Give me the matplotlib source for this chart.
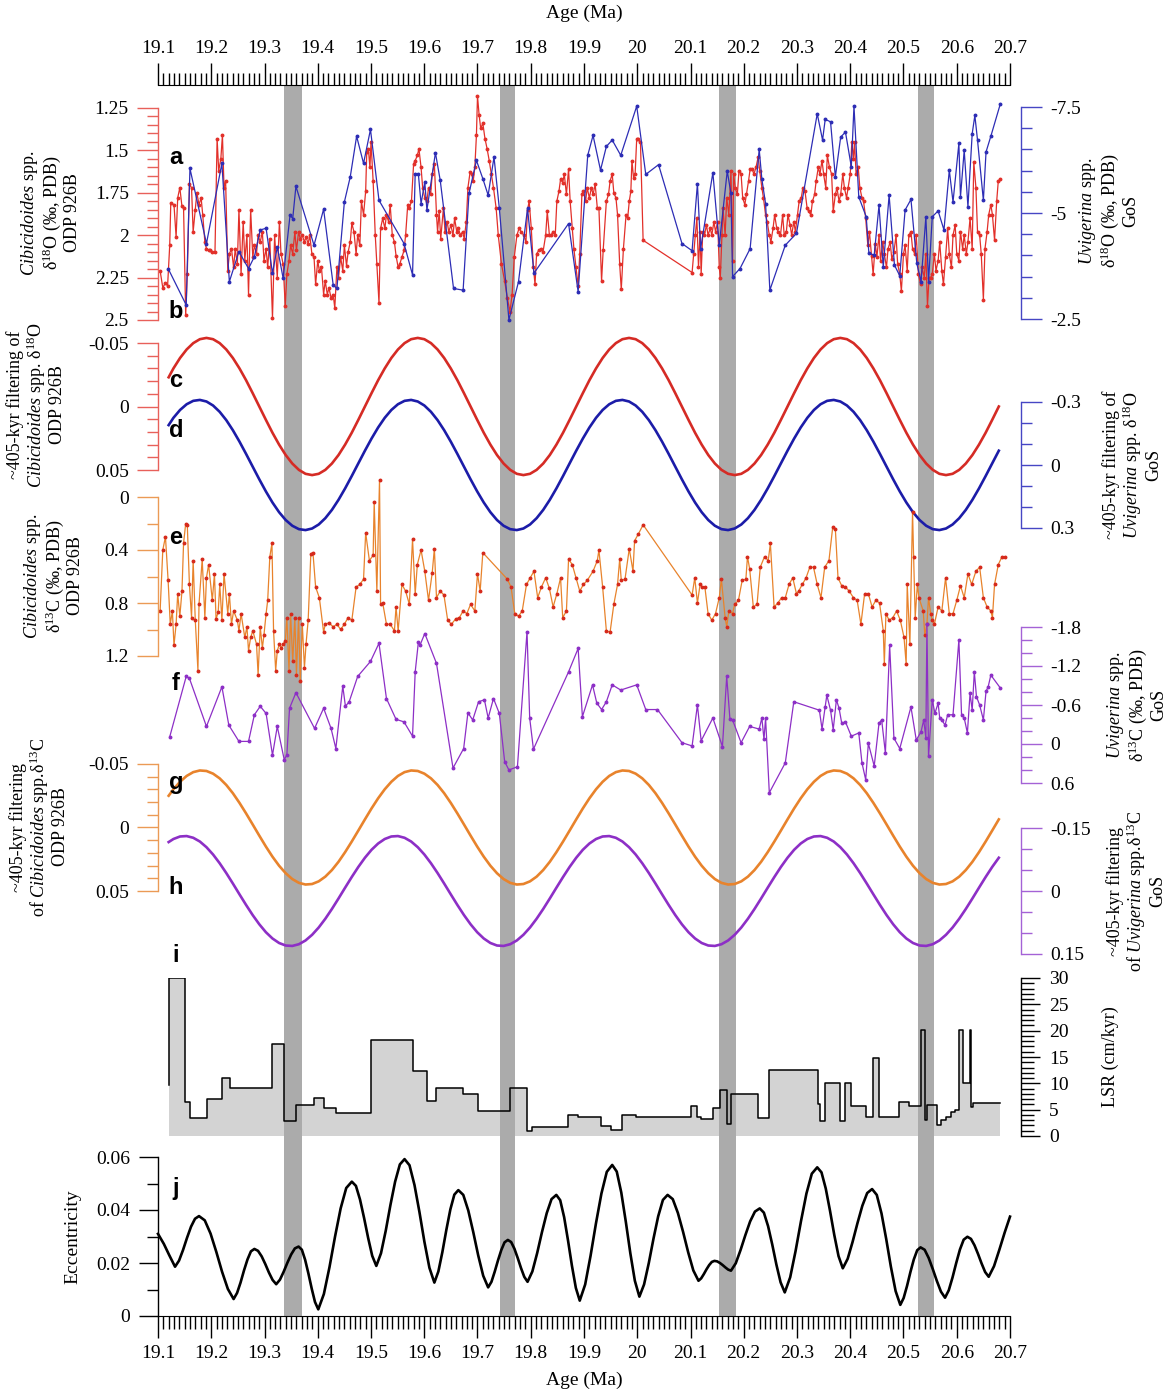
import matplotlib
matplotlib.use("Agg")
import matplotlib.pyplot as plt
import matplotlib.ticker as ticker
import numpy as np

plt.rcParams['font.family'] = 'Liberation Serif'
plt.rcParams['mathtext.fontset'] = 'custom'
plt.rcParams['mathtext.rm'] = 'Liberation Serif'
plt.rcParams['mathtext.it'] = 'Liberation Serif:italic'
plt.rcParams['mathtext.bf'] = 'Liberation Serif:bold'

# ---- data ----
band_start = [19.337, 19.743, 20.154, 20.527]
band_end = [19.370, 19.770, 20.185, 20.557]

# a: Cibicidoides spp. d18O, ODP 926B
cib_o_age = [
    19.104, 19.109, 19.114, 19.118, 19.122, 19.124, 19.130, 19.134, 19.137, 19.141,
    19.145, 19.148, 19.152, 19.155, 19.159, 19.163, 19.166, 19.170, 19.173, 19.177,
    19.181, 19.184, 19.188, 19.191, 19.195, 19.198, 19.202, 19.207, 19.211, 19.214,
    19.218, 19.221, 19.224, 19.227, 19.231, 19.234, 19.238, 19.242, 19.245, 19.249,
    19.252, 19.256, 19.260, 19.263, 19.267, 19.270, 19.274, 19.278, 19.281, 19.285,
    19.288, 19.292, 19.296, 19.299, 19.303, 19.306, 19.310, 19.315, 19.319, 19.324,
    19.328, 19.331, 19.335, 19.339, 19.342, 19.346, 19.349, 19.353, 19.357, 19.360,
    19.364, 19.367, 19.371, 19.375, 19.378, 19.382, 19.385, 19.389, 19.393, 19.396,
    19.400, 19.403, 19.407, 19.411, 19.414, 19.418, 19.421, 19.425, 19.429, 19.432,
    19.436, 19.439, 19.443, 19.447, 19.450, 19.454, 19.457, 19.461, 19.464, 19.468,
    19.472, 19.475, 19.479, 19.482, 19.486, 19.490, 19.492, 19.495, 19.498, 19.500,
    19.504, 19.508, 19.511, 19.515, 19.518, 19.522, 19.526, 19.529, 19.533, 19.536,
    19.540, 19.544, 19.547, 19.551, 19.554, 19.558, 19.562, 19.565, 19.569, 19.572,
    19.576, 19.580, 19.583, 19.587, 19.590, 19.594, 19.597, 19.601, 19.605, 19.608,
    19.612, 19.615, 19.619, 19.623, 19.625, 19.628, 19.631, 19.636, 19.639, 19.643,
    19.646, 19.650, 19.654, 19.657, 19.661, 19.664, 19.668, 19.672, 19.675, 19.679,
    19.682, 19.686, 19.689, 19.692, 19.695, 19.698, 19.700, 19.703, 19.706, 19.710,
    19.714, 19.718, 19.722, 19.726, 19.730, 19.735, 19.739, 19.745, 19.751, 19.756,
    19.761, 19.765, 19.769, 19.774, 19.778, 19.782, 19.787, 19.791, 19.794, 19.797,
    19.801, 19.805, 19.808, 19.811, 19.815, 19.819, 19.823, 19.828, 19.831, 19.835,
    19.838, 19.842, 19.846, 19.849, 19.853, 19.856, 19.860, 19.863, 19.867, 19.871,
    19.874, 19.878, 19.881, 19.885, 19.889, 19.892, 19.896, 19.899, 19.903, 19.906,
    19.910, 19.914, 19.917, 19.921, 19.925, 19.928, 19.933, 19.936, 19.942, 19.946,
    19.949, 19.953, 19.956, 19.960, 19.963, 19.967, 19.970, 19.974, 19.979, 19.982,
    19.985, 19.988, 19.990, 19.993, 19.996, 19.999, 20.002, 20.006, 20.011, 20.103,
    20.106, 20.109, 20.112, 20.115, 20.118, 20.120, 20.123, 20.126, 20.130, 20.133,
    20.137, 20.140, 20.144, 20.147, 20.151, 20.154, 20.156, 20.159, 20.161, 20.165,
    20.168, 20.172, 20.176, 20.179, 20.181, 20.184, 20.188, 20.191, 20.195, 20.198,
    20.202, 20.205, 20.209, 20.212, 20.216, 20.219, 20.223, 20.227, 20.230, 20.234,
    20.237, 20.241, 20.244, 20.248, 20.251, 20.255, 20.258, 20.262, 20.265, 20.269,
    20.273, 20.276, 20.280, 20.283, 20.287, 20.290, 20.294, 20.297, 20.301, 20.304,
    20.308, 20.311, 20.315, 20.319, 20.322, 20.326, 20.329, 20.333, 20.336, 20.340,
    20.343, 20.347, 20.350, 20.354, 20.357, 20.361, 20.365, 20.368, 20.372, 20.375,
    20.379, 20.382, 20.386, 20.389, 20.393, 20.396, 20.400, 20.403, 20.406, 20.408,
    20.411, 20.415, 20.418, 20.422, 20.425, 20.429, 20.433, 20.436, 20.440, 20.443,
    20.447, 20.450, 20.454, 20.457, 20.461, 20.464, 20.468, 20.471, 20.475, 20.478,
    20.482, 20.486, 20.489, 20.493, 20.496, 20.500, 20.503, 20.507, 20.510, 20.514,
    20.517, 20.521, 20.524, 20.528, 20.532, 20.535, 20.539, 20.542, 20.545, 20.548,
    20.551, 20.554, 20.558, 20.561, 20.565, 20.568, 20.572, 20.575, 20.579, 20.583,
    20.586, 20.590, 20.593, 20.597, 20.600, 20.604, 20.607, 20.611, 20.614, 20.618,
    20.621, 20.625, 20.629, 20.632, 20.636, 20.639, 20.643, 20.646, 20.650, 20.653,
    20.657, 20.660, 20.664, 20.667, 20.671, 20.675, 20.678, 20.682]
cib_d18o = [
    2.21, 2.31, 2.28, 2.30, 2.06, 1.81, 1.82, 2.01, 1.78, 1.72,
    1.83, 1.84, 2.47, 2.23, 1.70, 1.72, 1.98, 1.85, 1.75, 1.82,
    1.78, 1.88, 2.04, 2.08, 2.09, 2.09, 2.10, 2.10, 1.43, 1.62,
    1.55, 1.41, 1.72, 1.68, 2.21, 2.11, 2.08, 2.19, 2.08, 2.17,
    1.85, 2.23, 1.92, 2.15, 2.00, 2.35, 1.85, 2.13, 2.06, 2.11,
    2.00, 2.04, 1.98, 2.15, 2.08, 2.19, 2.02, 2.49, 2.00, 2.25,
    1.92, 2.11, 2.17, 2.42, 2.23, 2.15, 2.06, 2.11, 1.98, 2.09,
    1.98, 2.02, 2.00, 2.04, 2.01, 2.05, 2.00, 2.11, 2.13, 2.29,
    2.15, 2.21, 2.19, 2.35, 2.27, 2.35, 2.31, 2.37, 2.35, 2.43,
    2.19, 2.25, 2.13, 2.21, 2.06, 2.18, 2.10, 2.04, 1.93, 1.98,
    2.11, 2.00, 2.06, 1.80, 1.88, 1.74, 1.51, 1.49, 1.60, 1.45,
    1.68, 2.00, 2.17, 2.40, 1.96, 1.90, 1.96, 1.88, 1.92, 1.82,
    2.00, 2.04, 2.12, 2.19, 2.17, 2.13, 2.09, 2.00, 1.82, 1.84,
    1.80, 1.58, 1.56, 1.53, 1.49, 1.60, 1.72, 1.78, 1.80, 1.72,
    1.76, 1.64, 1.58, 1.88, 1.98, 1.86, 2.02, 1.84, 1.98, 1.92,
    1.98, 1.94, 2.00, 1.90, 1.98, 1.96, 2.00, 1.98, 2.02, 1.92,
    1.72, 1.63, 1.64, 1.68, 1.60, 1.41, 1.18, 1.29, 1.37, 1.34,
    1.43, 1.49, 1.56, 1.64, 1.72, 1.84, 2.00, 2.17, 2.27, 2.37,
    2.45, 2.35, 2.13, 2.00, 1.96, 1.98, 2.00, 2.04, 1.85, 1.80,
    1.96, 2.19, 2.29, 2.11, 2.09, 2.08, 2.10, 2.00, 1.86, 2.00,
    2.00, 1.98, 2.00, 1.80, 1.74, 1.67, 1.69, 1.64, 1.76, 1.61,
    1.80, 1.96, 2.08, 2.19, 2.30, 2.11, 1.76, 1.74, 1.80, 1.72,
    1.78, 1.72, 1.76, 1.70, 1.84, 1.84, 2.27, 2.09, 1.80, 1.76,
    1.68, 1.64, 1.75, 1.78, 1.88, 2.17, 2.32, 2.08, 1.88, 1.90,
    1.80, 1.74, 1.56, 1.66, 1.64, 1.43, 1.43, 1.45, 2.03, 2.22,
    2.11, 2.00, 1.90, 2.19, 1.98, 2.23, 1.98, 2.00, 1.94, 2.00,
    1.96, 2.00, 1.92, 1.98, 1.92, 2.19, 2.25, 2.00, 1.84, 2.00,
    1.78, 1.88, 1.62, 2.15, 1.64, 1.72, 1.76, 1.62, 1.64, 1.78,
    1.82, 1.76, 1.68, 1.61, 1.61, 1.64, 1.60, 1.54, 1.62, 1.72,
    1.78, 1.88, 1.92, 2.00, 2.04, 1.96, 1.88, 1.96, 1.98, 2.00,
    1.88, 2.00, 1.98, 1.88, 1.94, 2.00, 1.92, 1.98, 1.88, 1.80,
    1.78, 1.72, 1.74, 1.84, 1.86, 1.88, 1.80, 1.76, 1.68, 1.60,
    1.64, 1.56, 1.64, 1.72, 1.53, 1.60, 1.64, 1.86, 1.76, 1.72,
    1.80, 1.76, 1.64, 1.72, 1.78, 1.72, 1.64, 1.45, 1.55, 1.45,
    1.64, 1.60, 1.72, 1.78, 1.80, 1.90, 2.06, 1.98, 2.12, 2.23,
    2.05, 2.13, 2.00, 2.15, 2.04, 2.11, 2.19, 2.08, 2.04, 2.14,
    2.10, 2.00, 2.17, 2.23, 2.33, 2.11, 2.06, 2.21, 2.00, 1.98,
    2.08, 2.11, 2.00, 2.23, 2.29, 2.19, 2.25, 2.11, 2.42, 2.25,
    2.25, 2.23, 2.11, 2.21, 2.15, 2.04, 2.21, 2.29, 2.13, 1.96,
    2.11, 2.19, 2.00, 1.94, 2.11, 2.15, 1.98, 2.08, 2.00, 2.11,
    2.04, 1.90, 2.08, 1.57, 1.72, 1.98, 2.00, 2.11, 2.38, 2.08,
    1.98, 1.88, 1.82, 1.88, 2.03, 1.80, 1.68, 1.67]

# b: Uvigerina spp. d18O, GoS
uvi_o_age = [
    19.119, 19.153, 19.160, 19.191, 19.220, 19.234, 19.252, 19.270, 19.281, 19.292,
    19.303, 19.315, 19.324, 19.335, 19.348, 19.353, 19.359, 19.393, 19.411, 19.429,
    19.436, 19.450, 19.461, 19.473, 19.486, 19.499, 19.515, 19.562, 19.578, 19.583,
    19.589, 19.594, 19.601, 19.605, 19.621, 19.630, 19.655, 19.673, 19.684, 19.698,
    19.710, 19.720, 19.731, 19.741, 19.759, 19.777, 19.794, 19.806, 19.871, 19.889,
    19.907, 19.917, 19.931, 19.942, 19.953, 19.969, 19.999, 20.016, 20.040, 20.084,
    20.103, 20.113, 20.119, 20.142, 20.154, 20.169, 20.176, 20.179, 20.193, 20.212,
    20.229, 20.234, 20.241, 20.249, 20.278, 20.299, 20.338, 20.348, 20.353, 20.363,
    20.372, 20.382, 20.391, 20.402, 20.407, 20.416, 20.430, 20.435, 20.445, 20.454,
    20.462, 20.473, 20.483, 20.493, 20.503, 20.514, 20.525, 20.533, 20.542, 20.547,
    20.554, 20.565, 20.576, 20.586, 20.593, 20.604, 20.607, 20.614, 20.621, 20.629,
    20.634, 20.639, 20.650, 20.655, 20.664, 20.682]
uvi_d18o = [
    -3.69, -2.83, -6.05, -4.28, -6.17, -3.38, -4.09, -3.69, -3.97, -4.60,
    -4.64, -3.58, -4.20, -3.46, -4.95, -4.87, -5.63, -4.24, -5.09, -3.30,
    -3.22, -5.26, -5.85, -6.81, -6.17, -6.97, -5.30, -4.28, -3.54, -5.93,
    -5.91, -5.22, -5.73, -5.07, -6.42, -5.77, -3.22, -3.18, -5.46, -6.24,
    -5.81, -5.42, -6.32, -5.11, -2.48, -3.38, -5.11, -3.58, -4.75, -3.14,
    -6.36, -6.83, -6.01, -6.57, -6.72, -6.36, -7.52, -5.91, -6.14, -4.28,
    -4.11, -5.69, -4.16, -5.95, -4.24, -5.99, -5.46, -3.50, -3.69, -4.16,
    -6.50, -5.80, -5.22, -3.18, -4.24, -4.52, -7.34, -6.72, -7.21, -7.15,
    -5.85, -6.79, -6.91, -6.09, -7.52, -5.38, -4.91, -4.05, -4.01, -5.18,
    -3.73, -5.42, -3.77, -3.52, -5.07, -5.32, -3.81, -3.38, -4.91, -3.38,
    -4.91, -5.05, -4.60, -6.01, -5.26, -6.64, -5.38, -6.48, -5.15, -6.87,
    -7.30, -6.72, -5.30, -6.44, -6.81, -7.58]

# c, d, g, h: ~405-kyr filter outputs on a shared age grid
filt_age = [
    19.12, 19.129, 19.1414, 19.1538, 19.1662, 19.1786, 19.191, 19.2034, 19.2158, 19.2282,
    19.2406, 19.253, 19.2654, 19.2778, 19.2902, 19.3026, 19.315, 19.3274, 19.3398, 19.3522,
    19.3646, 19.377, 19.3894, 19.4018, 19.4142, 19.4266, 19.439, 19.4514, 19.4638, 19.4762,
    19.4886, 19.501, 19.5134, 19.5258, 19.5382, 19.5506, 19.563, 19.5754, 19.5878, 19.6002,
    19.6126, 19.625, 19.6374, 19.6498, 19.6622, 19.6746, 19.687, 19.6994, 19.7118, 19.7242,
    19.7366, 19.749, 19.7614, 19.7738, 19.7862, 19.7986, 19.811, 19.8234, 19.8358, 19.8482,
    19.8606, 19.873, 19.8854, 19.8978, 19.9102, 19.9226, 19.935, 19.9474, 19.9598, 19.9722,
    19.9846, 19.997, 20.0094, 20.0218, 20.0342, 20.0466, 20.059, 20.0714, 20.0838, 20.0962,
    20.1086, 20.121, 20.1334, 20.1458, 20.1582, 20.1706, 20.183, 20.1954, 20.2078, 20.2202,
    20.2326, 20.245, 20.2574, 20.2698, 20.2822, 20.2946, 20.307, 20.3194, 20.3318, 20.3442,
    20.3566, 20.369, 20.3814, 20.3938, 20.4062, 20.4186, 20.431, 20.4434, 20.4558, 20.4682,
    20.4806, 20.493, 20.5054, 20.5178, 20.5302, 20.5426, 20.555, 20.5674, 20.5798, 20.5922,
    20.6046, 20.617, 20.6294, 20.6418, 20.6542, 20.6666, 20.679]
cib_o_filt = [
    -0.023, -0.0300, -0.0382, -0.0449, -0.0499, -0.0530,
    -0.054, -0.0530, -0.0499, -0.0449, -0.0382, -0.0300, -0.0207, -0.0105,
    0.0, 0.0105, 0.0207, 0.0300, 0.0382, 0.0449, 0.0499, 0.0530,
    0.054, 0.0530, 0.0499, 0.0449, 0.0382, 0.0300, 0.0207, 0.0105,
    0.0, -0.0105, -0.0207, -0.0300, -0.0382, -0.0449, -0.0499, -0.0530,
    -0.054, -0.0530, -0.0499, -0.0449, -0.0382, -0.0300, -0.0207, -0.0105,
    0.0, 0.0105, 0.0207, 0.0300, 0.0382, 0.0449, 0.0499, 0.0530,
    0.054, 0.0530, 0.0499, 0.0449, 0.0382, 0.0300, 0.0207, 0.0105,
    0.0, -0.0105, -0.0207, -0.0300, -0.0382, -0.0449, -0.0499, -0.0530,
    -0.054, -0.0530, -0.0499, -0.0449, -0.0382, -0.0300, -0.0207, -0.0105,
    0.0, 0.0105, 0.0207, 0.0300, 0.0382, 0.0449, 0.0499, 0.0530,
    0.054, 0.0530, 0.0499, 0.0449, 0.0382, 0.0300, 0.0207, 0.0105,
    0.0, -0.0105, -0.0207, -0.0300, -0.0382, -0.0449, -0.0499, -0.0530,
    -0.054, -0.0530, -0.0499, -0.0449, -0.0382, -0.0300, -0.0207, -0.0105,
    0.0, 0.0105, 0.0207, 0.0300, 0.0382, 0.0449, 0.0499, 0.0530,
    0.054, 0.0530, 0.0499, 0.0449, 0.0382, 0.0300, 0.0207, 0.0105,
    0.0]
uvi_o_filt = [
    -0.19, -0.2247, -0.2620, -0.2893, -0.3055, -0.3099,
    -0.3024, -0.2833, -0.2533, -0.2137, -0.1657, -0.1114, -0.0528, 0.0078,
    0.0681, 0.1258, 0.1787, 0.2247, 0.2620, 0.2893, 0.3055, 0.3099,
    0.3024, 0.2833, 0.2533, 0.2137, 0.1657, 0.1114, 0.0528, -0.0078,
    -0.0681, -0.1258, -0.1787, -0.2247, -0.2620, -0.2893, -0.3055, -0.3099,
    -0.3024, -0.2833, -0.2533, -0.2137, -0.1657, -0.1114, -0.0528, 0.0078,
    0.0681, 0.1258, 0.1787, 0.2247, 0.2620, 0.2893, 0.3055, 0.3099,
    0.3024, 0.2833, 0.2533, 0.2137, 0.1657, 0.1114, 0.0528, -0.0078,
    -0.0681, -0.1258, -0.1787, -0.2247, -0.2620, -0.2893, -0.3055, -0.3099,
    -0.3024, -0.2833, -0.2533, -0.2137, -0.1657, -0.1114, -0.0528, 0.0078,
    0.0681, 0.1258, 0.1787, 0.2247, 0.2620, 0.2893, 0.3055, 0.3099,
    0.3024, 0.2833, 0.2533, 0.2137, 0.1657, 0.1114, 0.0528, -0.0078,
    -0.0681, -0.1258, -0.1787, -0.2247, -0.2620, -0.2893, -0.3055, -0.3099,
    -0.3024, -0.2833, -0.2533, -0.2137, -0.1657, -0.1114, -0.0528, 0.0078,
    0.0681, 0.1258, 0.1787, 0.2247, 0.2620, 0.2893, 0.3055, 0.3099,
    0.3024, 0.2833, 0.2533, 0.2137, 0.1657, 0.1114, 0.0528, -0.0078,
    -0.0681]
cib_c_filt = [
    -0.025, -0.0301, -0.0360, -0.0406, -0.0436, -0.0449,
    -0.0445, -0.0424, -0.0387, -0.0335, -0.0270, -0.0194, -0.0111, -0.0024,
    0.0064, 0.0150, 0.0230, 0.0301, 0.0360, 0.0406, 0.0436, 0.0449,
    0.0445, 0.0424, 0.0387, 0.0335, 0.0270, 0.0194, 0.0111, 0.0024,
    -0.0064, -0.0150, -0.0230, -0.0301, -0.0360, -0.0406, -0.0436, -0.0449,
    -0.0445, -0.0424, -0.0387, -0.0335, -0.0270, -0.0194, -0.0111, -0.0024,
    0.0064, 0.0150, 0.0230, 0.0301, 0.0360, 0.0406, 0.0436, 0.0449,
    0.0445, 0.0424, 0.0387, 0.0335, 0.0270, 0.0194, 0.0111, 0.0024,
    -0.0064, -0.0150, -0.0230, -0.0301, -0.0360, -0.0406, -0.0436, -0.0449,
    -0.0445, -0.0424, -0.0387, -0.0335, -0.0270, -0.0194, -0.0111, -0.0024,
    0.0064, 0.0150, 0.0230, 0.0301, 0.0360, 0.0406, 0.0436, 0.0449,
    0.0445, 0.0424, 0.0387, 0.0335, 0.0270, 0.0194, 0.0111, 0.0024,
    -0.0064, -0.0150, -0.0230, -0.0301, -0.0360, -0.0406, -0.0436, -0.0449,
    -0.0445, -0.0424, -0.0387, -0.0335, -0.0270, -0.0194, -0.0111, -0.0024,
    0.0064, 0.0150, 0.0230, 0.0301, 0.0360, 0.0406, 0.0436, 0.0449,
    0.0445, 0.0424, 0.0387, 0.0335, 0.0270, 0.0194, 0.0111, 0.0024,
    -0.0064]
uvi_c_filt = [
    -0.1165, -0.1238, -0.1298, -0.1308, -0.1267, -0.1178,
    -0.1043, -0.0869, -0.0661, -0.0428, -0.0178, 0.0079, 0.0332, 0.0573,
    0.0792, 0.0981, 0.1131, 0.1238, 0.1298, 0.1308, 0.1267, 0.1178,
    0.1043, 0.0869, 0.0661, 0.0428, 0.0178, -0.0079, -0.0332, -0.0573,
    -0.0792, -0.0981, -0.1131, -0.1238, -0.1298, -0.1308, -0.1267, -0.1178,
    -0.1043, -0.0869, -0.0661, -0.0428, -0.0178, 0.0079, 0.0332, 0.0573,
    0.0792, 0.0981, 0.1131, 0.1238, 0.1298, 0.1308, 0.1267, 0.1178,
    0.1043, 0.0869, 0.0661, 0.0428, 0.0178, -0.0079, -0.0332, -0.0573,
    -0.0792, -0.0981, -0.1131, -0.1238, -0.1298, -0.1308, -0.1267, -0.1178,
    -0.1043, -0.0869, -0.0661, -0.0428, -0.0178, 0.0079, 0.0332, 0.0573,
    0.0792, 0.0981, 0.1131, 0.1238, 0.1298, 0.1308, 0.1267, 0.1178,
    0.1043, 0.0869, 0.0661, 0.0428, 0.0178, -0.0079, -0.0332, -0.0573,
    -0.0792, -0.0981, -0.1131, -0.1238, -0.1298, -0.1308, -0.1267, -0.1178,
    -0.1043, -0.0869, -0.0661, -0.0428, -0.0178, 0.0079, 0.0332, 0.0573,
    0.0792, 0.0981, 0.1131, 0.1238, 0.1298, 0.1308, 0.1267, 0.1178,
    0.1043, 0.0869, 0.0661, 0.0428, 0.0178, -0.0079, -0.0332, -0.0573,
    -0.0792]

# e: Cibicidoides spp. d13C, ODP 926B
cib_c_age = [
    19.104, 19.109, 19.114, 19.119, 19.123, 19.127, 19.130, 19.134, 19.137, 19.141,
    19.145, 19.148, 19.152, 19.155, 19.159, 19.163, 19.166, 19.170, 19.175, 19.177,
    19.183, 19.188, 19.191, 19.195, 19.202, 19.206, 19.209, 19.213, 19.216, 19.220,
    19.224, 19.231, 19.234, 19.238, 19.242, 19.249, 19.252, 19.256, 19.263, 19.267,
    19.270, 19.274, 19.278, 19.285, 19.288, 19.292, 19.296, 19.299, 19.303, 19.306,
    19.310, 19.314, 19.317, 19.321, 19.324, 19.328, 19.331, 19.335, 19.339, 19.342,
    19.346, 19.349, 19.353, 19.357, 19.360, 19.364, 19.367, 19.371, 19.375, 19.378,
    19.382, 19.387, 19.391, 19.396, 19.403, 19.411, 19.414, 19.421, 19.429, 19.436,
    19.443, 19.450, 19.457, 19.464, 19.472, 19.479, 19.486, 19.490, 19.497, 19.504,
    19.506, 19.511, 19.516, 19.518, 19.522, 19.529, 19.536, 19.544, 19.547, 19.551,
    19.558, 19.565, 19.572, 19.578, 19.583, 19.587, 19.594, 19.601, 19.608, 19.615,
    19.619, 19.623, 19.630, 19.637, 19.644, 19.651, 19.659, 19.666, 19.673, 19.680,
    19.687, 19.695, 19.700, 19.705, 19.710, 19.756, 19.763, 19.770, 19.777, 19.784,
    19.792, 19.799, 19.806, 19.813, 19.820, 19.828, 19.835, 19.842, 19.849, 19.856,
    19.860, 19.867, 19.871, 19.878, 19.885, 19.892, 19.899, 19.906, 19.917, 19.925,
    19.928, 19.935, 19.942, 19.949, 19.956, 19.963, 19.967, 19.970, 19.977, 19.985,
    19.992, 19.995, 20.002, 20.011, 20.103, 20.108, 20.113, 20.118, 20.122, 20.127,
    20.133, 20.140, 20.147, 20.154, 20.158, 20.165, 20.168, 20.172, 20.179, 20.183,
    20.190, 20.197, 20.204, 20.207, 20.211, 20.218, 20.225, 20.231, 20.239, 20.246,
    20.250, 20.257, 20.264, 20.271, 20.278, 20.285, 20.292, 20.299, 20.303, 20.310,
    20.317, 20.324, 20.331, 20.338, 20.345, 20.352, 20.360, 20.367, 20.372, 20.377,
    20.384, 20.391, 20.398, 20.406, 20.413, 20.420, 20.427, 20.434, 20.441, 20.448,
    20.455, 20.462, 20.464, 20.467, 20.473, 20.480, 20.487, 20.494, 20.501, 20.505,
    20.507, 20.512, 20.517, 20.519, 20.522, 20.526, 20.529, 20.537, 20.540, 20.544,
    20.547, 20.551, 20.554, 20.558, 20.565, 20.572, 20.579, 20.586, 20.593, 20.600,
    20.607, 20.614, 20.621, 20.628, 20.636, 20.643, 20.650, 20.657, 20.664, 20.667,
    20.671, 20.678, 20.685, 20.691]
cib_d13c = [
    0.86, 0.40, 0.30, 0.63, 0.96, 0.86, 1.12, 0.96, 0.73, 0.90,
    0.71, 0.35, 0.20, 0.21, 0.66, 0.91, 0.48, 0.93, 1.31, 0.81,
    0.47, 0.91, 0.61, 0.51, 0.78, 0.58, 0.92, 0.87, 0.66, 0.93,
    0.58, 0.88, 0.73, 0.96, 0.86, 0.93, 1.01, 0.88, 1.06, 0.98,
    1.16, 1.06, 1.01, 1.11, 1.34, 0.98, 1.14, 1.04, 0.88, 0.78,
    0.45, 0.35, 1.01, 1.31, 1.16, 1.11, 1.14, 1.11, 1.09, 0.91,
    1.31, 0.88, 1.24, 0.91, 1.34, 0.91, 1.39, 0.96, 1.29, 1.11,
    0.93, 0.43, 0.42, 0.68, 0.76, 1.02, 0.96, 0.95, 0.98, 0.96,
    1.00, 0.96, 0.91, 0.93, 0.68, 0.66, 0.62, 0.27, 0.48, 0.44,
    0.04, 0.71, -0.13, 0.81, 0.80, 0.96, 0.96, 1.01, 0.83, 1.01,
    0.66, 0.71, 0.81, 0.32, 0.73, 0.51, 0.40, 0.56, 0.78, 0.57,
    0.39, 0.76, 0.71, 0.74, 0.93, 0.96, 0.92, 0.91, 0.86, 0.88,
    0.81, 0.86, 0.58, 0.71, 0.42, 0.62, 0.68, 0.88, 0.90, 0.86,
    0.66, 0.61, 0.56, 0.76, 0.68, 0.61, 0.69, 0.83, 0.73, 0.61,
    0.91, 0.86, 0.47, 0.51, 0.61, 0.71, 0.66, 0.63, 0.56, 0.48,
    0.40, 0.68, 1.01, 1.02, 0.81, 0.66, 0.47, 0.63, 0.62, 0.39,
    0.56, 0.33, 0.28, 0.21, 0.74, 0.61, 0.80, 0.66, 0.68, 0.68,
    0.88, 0.93, 0.88, 0.76, 0.62, 0.91, 0.98, 0.86, 0.88, 0.81,
    0.78, 0.63, 0.62, 0.45, 0.54, 0.83, 0.81, 0.53, 0.45, 0.48,
    0.35, 0.83, 0.80, 0.76, 0.76, 0.66, 0.61, 0.73, 0.71, 0.66,
    0.61, 0.53, 0.53, 0.66, 0.76, 0.53, 0.48, 0.23, 0.24, 0.61,
    0.67, 0.68, 0.71, 0.76, 0.78, 0.96, 0.73, 0.73, 0.83, 0.78,
    0.80, 1.01, 1.26, 0.88, 0.93, 0.91, 0.86, 0.93, 1.06, 1.26,
    0.66, 1.11, 0.11, 0.45, 0.91, 0.66, 0.76, 0.86, 1.04, 0.96,
    0.76, 0.88, 0.93, 0.96, 0.83, 0.86, 0.61, 0.88, 0.88, 0.78,
    0.67, 0.76, 0.58, 0.66, 0.56, 0.53, 0.76, 0.83, 0.86, 0.91,
    0.66, 0.51, 0.45, 0.45]

# f: Uvigerina spp. d13C, GoS
uvi_c_age = [
    19.122, 19.153, 19.159, 19.191, 19.220, 19.233, 19.252, 19.270, 19.281, 19.292,
    19.303, 19.315, 19.324, 19.337, 19.342, 19.347, 19.359, 19.394, 19.411, 19.425,
    19.434, 19.447, 19.452, 19.459, 19.475, 19.499, 19.515, 19.529, 19.547, 19.562,
    19.578, 19.583, 19.589, 19.592, 19.601, 19.623, 19.654, 19.674, 19.682, 19.691,
    19.702, 19.713, 19.720, 19.730, 19.741, 19.751, 19.759, 19.775, 19.793, 19.798,
    19.805, 19.871, 19.889, 19.897, 19.916, 19.924, 19.933, 19.942, 19.953, 19.969,
    19.999, 20.016, 20.038, 20.084, 20.103, 20.113, 20.120, 20.142, 20.160, 20.168,
    20.174, 20.179, 20.195, 20.211, 20.229, 20.234, 20.238, 20.241, 20.248, 20.278,
    20.294, 20.342, 20.347, 20.353, 20.356, 20.363, 20.368, 20.374, 20.379, 20.384,
    20.391, 20.402, 20.416, 20.422, 20.429, 20.434, 20.445, 20.454, 20.459, 20.466,
    20.474, 20.482, 20.493, 20.514, 20.524, 20.533, 20.538, 20.542, 20.544, 20.547,
    20.554, 20.559, 20.565, 20.568, 20.572, 20.578, 20.583, 20.593, 20.604, 20.609,
    20.614, 20.620, 20.625, 20.629, 20.633, 20.637, 20.643, 20.650, 20.655, 20.659,
    20.664, 20.682]
uvi_d13c = [
    -0.11, -1.04, -1.01, -0.27, -0.88, -0.29, -0.04, -0.04, -0.45, -0.58,
    -0.47, 0.17, -0.27, 0.24, 0.17, -0.55, -0.79, -0.24, -0.55, -0.24,
    0.07, -0.89, -0.58, -0.65, -1.04, -1.27, -1.55, -0.70, -0.38, -0.34,
    -0.12, -1.11, -1.57, -1.52, -1.70, -1.24, 0.37, 0.07, -0.48, -0.37,
    -0.65, -0.68, -0.40, -0.70, -0.47, 0.27, 0.40, 0.35, -1.73, -0.40,
    0.08, -1.11, -1.47, -0.42, -0.91, -0.63, -0.53, -0.65, -0.91, -0.83,
    -0.91, -0.53, -0.53, -0.02, 0.03, -0.60, -0.05, -0.40, 0.04, -1.04,
    -0.39, -0.37, -0.02, -0.27, -0.23, -0.40, -0.07, -0.40, 0.75, 0.29,
    -0.65, -0.52, -0.23, -0.57, -0.75, -0.52, -0.22, -0.68, -0.55, -0.32,
    -0.34, -0.12, -0.17, 0.29, 0.55, -0.01, 0.34, -0.32, -0.37, 0.14,
    -1.52, -0.09, 0.07, -0.57, -0.06, -0.19, -0.37, -0.09, -1.85, 0.19,
    -0.68, -0.47, -0.63, -0.40, -0.37, -0.29, -0.45, -0.45, -1.60, -0.45,
    -0.40, -0.17, -0.78, -0.52, -1.11, -0.73, -0.60, -0.37, -0.81, -0.88,
    -1.06, -0.86]

# i: linear sedimentation rate (step starts), cm/kyr
lsr_age = [
    19.120, 19.1205, 19.1515, 19.1605, 19.1928, 19.2206, 19.2348, 19.3145, 19.3357, 19.3597,
    19.3933, 19.4114, 19.4347, 19.4994, 19.5783, 19.6054, 19.6215, 19.6733, 19.7006, 19.7607,
    19.793, 19.8027, 19.8705, 19.8887, 19.932, 19.9515, 19.971, 19.998, 20.101, 20.1113,
    20.1201, 20.142, 20.1558, 20.168, 20.1762, 20.2275, 20.248, 20.339, 20.3438, 20.3527,
    20.3813, 20.3903, 20.402, 20.4292, 20.443, 20.4532, 20.4908, 20.511, 20.532, 20.5408,
    20.544, 20.5627, 20.5695, 20.5798, 20.590, 20.5967, 20.6036, 20.612, 20.6242, 20.6276,
    20.631, 20.681]
lsr = [
    9.7, 30.0, 6.4, 3.5, 7.1, 11.1, 9.05, 17.5, 2.85, 5.9,
    7.3, 5.3, 4.3, 18.2, 12.4, 6.7, 9.2, 8.0, 4.7, 9.1,
    0.95, 1.8, 3.9, 3.7, 1.96, 1.2, 4.0, 3.7, 5.7, 3.7,
    3.3, 5.3, 8.8, 2.2, 8.0, 3.4, 12.5, 6.0, 2.9, 10.1,
    2.9, 10.1, 5.7, 3.7, 14.8, 3.7, 6.4, 5.7, 20.2, 3.0,
    5.9, 2.0, 3.0, 3.7, 4.5, 5.0, 20.2, 10.1, 20.2, 5.5,
    6.2, 6.2]

# j: eccentricity
ecc_age = [
    19.100, 19.111, 19.121, 19.132, 19.1395, 19.147, 19.1545, 19.162, 19.1695, 19.177,
    19.1878, 19.1987, 19.2095, 19.2203, 19.2312, 19.242, 19.2485, 19.255, 19.2615, 19.268,
    19.2745, 19.281, 19.2878, 19.2947, 19.3015, 19.3083, 19.3152, 19.322, 19.329, 19.336,
    19.343, 19.350, 19.357, 19.364, 19.3702, 19.3763, 19.3825, 19.3887, 19.3948, 19.401,
    19.4115, 19.422, 19.4325, 19.443, 19.4535, 19.464, 19.4717, 19.4793, 19.487, 19.4947,
    19.5023, 19.510, 19.5188, 19.5277, 19.5365, 19.5453, 19.5542, 19.563, 19.5723, 19.5817,
    19.591, 19.6003, 19.6097, 19.619, 19.6265, 19.634, 19.6415, 19.649, 19.6565, 19.664,
    19.6733, 19.6827, 19.692, 19.7013, 19.7107, 19.720, 19.7262, 19.7323, 19.7385, 19.7447,
    19.7508, 19.757, 19.7632, 19.7693, 19.7755, 19.7817, 19.7878, 19.794, 19.803, 19.812,
    19.821, 19.830, 19.839, 19.848, 19.8553, 19.8627, 19.870, 19.8773, 19.8847, 19.892,
    19.9022, 19.9123, 19.9225, 19.9327, 19.9428, 19.953, 19.9615, 19.970, 19.9785, 19.987,
    19.9955, 20.004, 20.0128, 20.0217, 20.0305, 20.0393, 20.0482, 20.057, 20.0667, 20.0763,
    20.086, 20.0957, 20.1053, 20.115, 20.120, 20.125, 20.130, 20.135, 20.140, 20.145,
    20.1502, 20.1553, 20.1605, 20.1657, 20.1708, 20.176, 20.185, 20.194, 20.203, 20.212,
    20.221, 20.230, 20.2378, 20.2457, 20.2535, 20.2613, 20.2692, 20.277, 20.2872, 20.2973,
    20.3075, 20.3177, 20.3278, 20.338, 20.346, 20.354, 20.362, 20.370, 20.378, 20.386,
    20.3952, 20.4043, 20.4135, 20.4227, 20.4318, 20.441, 20.4498, 20.4587, 20.4675, 20.4763,
    20.4852, 20.494, 20.5003, 20.5067, 20.513, 20.5193, 20.5257, 20.532, 20.5397, 20.5473,
    20.555, 20.5627, 20.5703, 20.578, 20.585, 20.592, 20.599, 20.606, 20.613, 20.620,
    20.6267, 20.6333, 20.640, 20.6467, 20.6533, 20.660, 20.670, 20.680, 20.690, 20.700]
ecc = [
    0.0310, 0.0272, 0.0230, 0.0186, 0.0209, 0.0249, 0.0295, 0.0337, 0.0367, 0.0377,
    0.0361, 0.0311, 0.0242, 0.0167, 0.0102, 0.0064, 0.0087, 0.0126, 0.0172, 0.0213,
    0.0244, 0.0253, 0.0246, 0.0225, 0.0196, 0.0164, 0.0136, 0.0120, 0.0137, 0.0167,
    0.0201, 0.0232, 0.0255, 0.0262, 0.0250, 0.0212, 0.0160, 0.0103, 0.0053, 0.0025,
    0.0083, 0.0184, 0.0300, 0.0406, 0.0483, 0.0507, 0.0491, 0.0440, 0.0370, 0.0294,
    0.0227, 0.0189, 0.0237, 0.0322, 0.0419, 0.0507, 0.0572, 0.0592, 0.0569, 0.0494,
    0.0392, 0.0280, 0.0182, 0.0126, 0.0168, 0.0241, 0.0325, 0.0402, 0.0458, 0.0475,
    0.0457, 0.0398, 0.0317, 0.0229, 0.0152, 0.0108, 0.0129, 0.0167, 0.0210, 0.0249,
    0.0278, 0.0287, 0.0279, 0.0254, 0.0219, 0.0181, 0.0148, 0.0129, 0.0168, 0.0237,
    0.0316, 0.0388, 0.0441, 0.0457, 0.0437, 0.0373, 0.0285, 0.0190, 0.0106, 0.0058,
    0.0119, 0.0227, 0.0350, 0.0462, 0.0544, 0.0570, 0.0545, 0.0466, 0.0356, 0.0237,
    0.0133, 0.0073, 0.0119, 0.0200, 0.0292, 0.0376, 0.0438, 0.0457, 0.0441, 0.0389,
    0.0318, 0.0240, 0.0172, 0.0133, 0.0142, 0.0158, 0.0176, 0.0192, 0.0204, 0.0208,
    0.0206, 0.0200, 0.0192, 0.0183, 0.0175, 0.0171, 0.0199, 0.0249, 0.0305, 0.0357,
    0.0394, 0.0406, 0.0390, 0.0339, 0.0270, 0.0194, 0.0127, 0.0089, 0.0146, 0.0245,
    0.0358, 0.0462, 0.0537, 0.0561, 0.0542, 0.0481, 0.0397, 0.0306, 0.0226, 0.0180,
    0.0216, 0.0279, 0.0350, 0.0416, 0.0464, 0.0479, 0.0457, 0.0387, 0.0291, 0.0186,
    0.0094, 0.0042, 0.0068, 0.0114, 0.0166, 0.0213, 0.0248, 0.0259, 0.0250, 0.0219,
    0.0177, 0.0132, 0.0092, 0.0069, 0.0097, 0.0145, 0.0200, 0.0251, 0.0288, 0.0299,
    0.0291, 0.0267, 0.0234, 0.0198, 0.0166, 0.0148, 0.0188, 0.0250, 0.0315, 0.0375]

# ---- styling ----
RED = '#e2302a'
RED_AX = '#e8605a'
BLUE = '#2d2db5'
BLUE_AX = '#4646c4'
RED_F = '#d52b25'
BLUE_F = '#1c1ca8'
ORANGE = '#e8832c'
ORANGE_AX = '#eb9a55'
DOT = '#d62a1c'
PURPLE = '#8d2fc6'
PURPLE_AX = '#a462d6'
BAND = '#ababab'
FILL = '#d3d3d3'

W, H = 1171, 1391
PX_L, PX_R = 158, 1021
X0, X1 = 19.1, 20.7
X_END = X0 + (PX_R - PX_L) / 532.5

fmt = ticker.FuncFormatter(lambda v, pos: f"{round(v, 4) + 0:g}")

fig = plt.figure(figsize=(W / 100, H / 100), dpi=100)


def rect(top, bottom):
    return [PX_L / W, 1 - bottom / H, (PX_R - PX_L) / W, (bottom - top) / H]


def panel(top, bottom, lim, side, color, major, minor):
    ax = fig.add_axes(rect(top, bottom))
    ax.set_facecolor('none')
    ax.set_xlim(X0, X_END)
    ax.set_ylim(*lim)
    for s in ax.spines.values():
        s.set_visible(False)
    ax.spines[side].set_visible(True)
    ax.spines[side].set_color(color)
    ax.spines[side].set_linewidth(1.0)
    ax.xaxis.set_visible(False)
    ax.yaxis.set_ticks_position(side)
    ax.yaxis.set_major_locator(ticker.MultipleLocator(major))
    ax.yaxis.set_minor_locator(ticker.MultipleLocator(minor))
    ax.yaxis.set_major_formatter(fmt)
    ax.tick_params(axis='y', which='major', direction='out', length=15, width=1,
                   color=color, pad=6, labelsize=14)
    ax.tick_params(axis='y', which='minor', direction='out', length=8, width=1, color=color)
    return ax


# top age axis + grey bands
ax_top = fig.add_axes(rect(85, 1316))
ax_top.set_facecolor('none')
ax_top.set_xlim(X0, X_END)
ax_top.set_ylim(0, 1)
for s in ['left', 'right', 'bottom']:
    ax_top.spines[s].set_visible(False)
ax_top.spines['top'].set_bounds(X0, X1)
ax_top.yaxis.set_visible(False)
ax_top.xaxis.set_ticks_position('top')
ax_top.xaxis.set_major_locator(ticker.FixedLocator(np.linspace(X0, X1, 17)))
ax_top.xaxis.set_minor_locator(ticker.FixedLocator(np.linspace(X0, X1, 161)))
ax_top.xaxis.set_major_formatter(fmt)
ax_top.tick_params(axis='x', which='major', direction='out', length=16, width=1, pad=4, labelsize=14)
ax_top.tick_params(axis='x', which='minor', direction='out', length=9, width=1)
for b0, b1 in zip(band_start, band_end):
    ax_top.axvspan(b0, b1, color=BAND, lw=0, zorder=0)

# a / b
ax_a = panel(108, 320, (2.5, 1.25), 'left', RED_AX, 0.25, 0.05)
ax_a.plot(cib_o_age, cib_d18o, color=RED, lw=0.9, marker='o', ms=1.8, clip_on=False)
ax_b = panel(107, 319, (-2.5, -7.5), 'right', BLUE_AX, 2.5, 0.5)
ax_b.plot(uvi_o_age, uvi_d18o, color=BLUE, lw=0.9, marker='o', ms=1.8, clip_on=False)

# c / d
ax_c = panel(343, 470, (0.05, -0.05), 'left', RED_AX, 0.05, 0.01)
ax_c.plot(filt_age, cib_o_filt, color=RED_F, lw=1.9, clip_on=False)
ax_d = panel(402, 528, (0.3, -0.3), 'right', BLUE_AX, 0.3, 0.1)
ax_d.plot(filt_age, uvi_o_filt, color=BLUE_F, lw=1.9, clip_on=False)

# e / f
ax_e = panel(497, 656, (1.2, 0), 'left', ORANGE_AX, 0.4, 0.2)
ax_e.plot(cib_c_age, cib_d13c, color=ORANGE, lw=0.9, marker='o', ms=1.8,
          mfc=DOT, mec=DOT, clip_on=False)
ax_f = panel(627, 783, (0.6, -1.8), 'right', PURPLE_AX, 0.6, 0.2)
ax_f.plot(uvi_c_age, uvi_d13c, color=PURPLE, lw=0.9, marker='o', ms=1.8, clip_on=False)

# g / h
ax_g = panel(764, 891, (0.05, -0.05), 'left', ORANGE_AX, 0.05, 0.01)
ax_g.plot(filt_age, cib_c_filt, color=ORANGE, lw=1.9, clip_on=False)
ax_h = panel(828, 954, (0.15, -0.15), 'right', PURPLE_AX, 0.15, 0.05)
ax_h.plot(filt_age, uvi_c_filt, color=PURPLE, lw=1.9, clip_on=False)

# i: LSR
ax_i = panel(978, 1136, (0, 30), 'right', 'black', 5, 1)
ax_i.tick_params(axis='y', which='major', length=14)
ax_i.tick_params(axis='y', which='minor', length=9)
ax_i.fill_between(lsr_age, 0, lsr, step='post', color=FILL, lw=0, zorder=0)
for b0, b1 in zip(band_start, band_end):
    ax_i.axvspan(b0, b1, color=BAND, lw=0, zorder=1)
ax_i.step(lsr_age, lsr, where='post', color='black', lw=1.1, zorder=2)

# j: eccentricity + bottom age axis
ax_j = panel(1157, 1316, (0, 0.06), 'left', 'black', 0.02, 0.01)
ax_j.tick_params(axis='y', which='major', length=14)
ax_j.plot(ecc_age, ecc, color='black', lw=1.9, clip_on=False)
ax_j.xaxis.set_visible(True)
ax_j.spines['bottom'].set_visible(True)
ax_j.spines['bottom'].set_bounds(X0, X1)
ax_j.xaxis.set_major_locator(ticker.FixedLocator(np.linspace(X0, X1, 17)))
ax_j.xaxis.set_minor_locator(ticker.FixedLocator(np.linspace(X0, X1, 161)))
ax_j.xaxis.set_major_formatter(fmt)
ax_j.tick_params(axis='x', which='major', direction='out', length=16, width=1, pad=5, labelsize=14)
ax_j.tick_params(axis='x', which='minor', direction='out', length=9, width=1)

# axis titles
fig.text(584 / W, 1 - 13 / H, 'Age (Ma)', ha='center', va='center', fontsize=14)
fig.text(584 / W, 1 - 1380 / H, 'Age (Ma)', ha='center', va='center', fontsize=14)

labels = [
    (50, 213, "$\\mathit{Cibicidoides}$ spp.\nδ$^{18}$O (‰, PDB)\nODP 926B"),
    (36, 405, "~405-kyr filtering of\n$\\mathit{Cibicidoides}$ spp. δ$^{18}$O\nODP 926B"),
    (53, 576, "$\\mathit{Cibicidoides}$ spp.\nδ$^{13}$C (‰, PDB)\nODP 926B"),
    (39, 827, "~405-kyr filtering\nof $\\mathit{Cibicidoides}$ spp.δ$^{13}$C\nODP 926B"),
    (1108, 211, "$\\mathit{Uvigerina}$ spp.\nδ$^{18}$O (‰, PDB)\nGoS"),
    (1132, 465, "~405-kyr filtering of\n$\\mathit{Uvigerina}$ spp. δ$^{18}$O\nGoS"),
    (1136, 705, "$\\mathit{Uvigerina}$ spp.\nδ$^{13}$C (‰, PDB)\nGoS"),
    (1136, 891, "~405-kyr filtering\nof $\\mathit{Uvigerina}$ spp.δ$^{13}$C\nGoS"),
    (1110, 1057, "LSR (cm/kyr)"),
]
for x, y, t in labels:
    fig.text(x / W, 1 - y / H, t, rotation=90, ha='center', va='center',
             multialignment='center', fontsize=13, linespacing=1.05)
fig.text(73 / W, 1 - 1237 / H, 'Eccentricity', rotation=90, ha='center', va='center', fontsize=14)

# panel letters
letters = [('a', 158), ('b', 312), ('c', 380), ('d', 430), ('e', 538),
           ('f', 683), ('g', 783), ('h', 888), ('i', 955), ('j', 1188)]
for s, y in letters:
    fig.text(176 / W, 1 - y / H, s, ha='center', va='center', fontsize=17,
             fontweight='bold', family='Liberation Sans')

fig.savefig('out.png', dpi=100)
